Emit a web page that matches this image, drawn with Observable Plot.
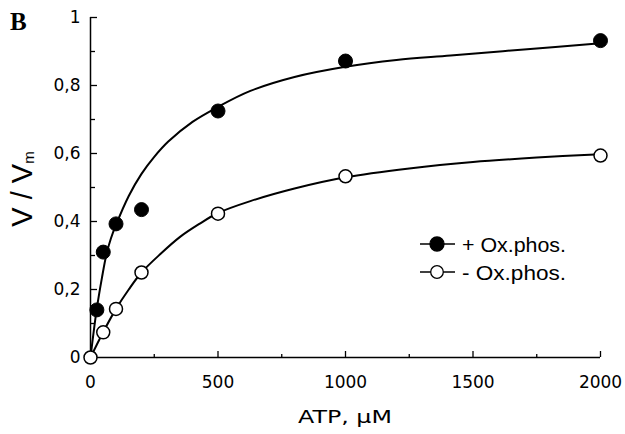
<!DOCTYPE html>
<html>
<head>
<meta charset="utf-8">
<script src="https://cdn.jsdelivr.net/npm/d3@7"></script>
<script src="https://cdn.jsdelivr.net/npm/@observablehq/plot@0.6"></script>
<style>
  html, body { margin: 0; padding: 0; background: #fff; }
  #chart { width: 625px; height: 434px; }
</style>
</head>
<body>
<div id="chart"></div>
<script>
// Measured points (ATP, µM vs V/Vm)
const plusX  = [25, 50, 100, 200, 500, 1000, 2000];
const plusY  = [0.14, 0.31, 0.393, 0.435, 0.725, 0.872, 0.932];
const minusX = [0, 50, 100, 200, 500, 1000, 2000];
const minusY = [0, 0.074, 0.143, 0.25, 0.423, 0.533, 0.594];

// Fitted curves
const plusCurveX  = [0, 24, 45, 63, 80, 100, 150, 200, 250, 305, 400, 500, 627, 800, 1000, 1200, 1412, 1700, 2000];
const plusCurveY  = [0, 0.14, 0.235, 0.305, 0.35, 0.39, 0.475, 0.54, 0.59, 0.635, 0.693, 0.737, 0.784, 0.825, 0.855, 0.875, 0.888, 0.906, 0.924];
const minusCurveX = [0, 50, 100, 150, 200, 275, 350, 425, 500, 627, 800, 1000, 1250, 1500, 1750, 2000];
const minusCurveY = [0, 0.075, 0.143, 0.2, 0.25, 0.305, 0.354, 0.392, 0.425, 0.46, 0.497, 0.53, 0.556, 0.575, 0.588, 0.598];

// Axis ticks and labels
const xTicks = [0, 500, 1000, 1500, 2000];
const xMinorTicks = [250, 750, 1250, 1750];
const yTicks = [0, 0.2, 0.4, 0.6, 0.8, 1];
const yTickLabels = ["0", "0,2", "0,4", "0,6", "0,8", "1"];
const yMinorTicks = [0.1, 0.3, 0.5, 0.7, 0.9];
const seriesLabels = ["+ Ox.phos.", "- Ox.phos."];
const xTitle = "ATP, \u00b5M";
const panelLetter = "B";

const plusPts = plusX.map((x, i) => ({x, y: plusY[i]}));
const minusPts = minusX.map((x, i) => ({x, y: minusY[i]}));
const plusCurve = plusCurveX.map((x, i) => ({x, y: plusCurveY[i]}));
const minusCurve = minusCurveX.map((x, i) => ({x, y: minusCurveY[i]}));

const W = 625, H = 434, mL = 90, mR = 25, mT = 17, mB = 77;
const innerW = W - mL - mR, innerH = H - mT - mB;

const chart = Plot.plot({
  width: W, height: H,
  marginLeft: mL, marginRight: mR, marginTop: mT, marginBottom: mB,
  style: {fontFamily: "DejaVu Sans", fontSize: "17px", background: "white", color: "black"},
  x: {domain: [0, 2000], label: null},
  y: {domain: [0, 1], label: null},
  marks: [
    Plot.axisX({ticks: xTicks, tickSize: 0, tickPadding: 18, tickFormat: d => String(d), label: null, fontSize: 17}),
    Plot.axisY({ticks: yTicks, tickSize: 0, tickPadding: 10, tickFormat: d => yTickLabels[yTicks.indexOf(d)], label: null, fontSize: 17}),
    Plot.tickY(yTicks, {y: d => d, insetRight: innerW - 7, stroke: "black", strokeWidth: 1.3}),
    Plot.tickY(yMinorTicks, {y: d => d, insetRight: innerW - 5, stroke: "black", strokeWidth: 1.3}),
    Plot.tickX(xTicks, {x: d => d, insetTop: innerH - 6, stroke: "black", strokeWidth: 1.3}),
    Plot.tickX(xMinorTicks, {x: d => d, insetTop: innerH - 3, stroke: "black", strokeWidth: 1.3}),
    Plot.ruleX([0], {stroke: "black", strokeWidth: 1.5}),
    Plot.ruleY([0], {stroke: "black", strokeWidth: 1.5}),
    Plot.line(plusCurve, {x: "x", y: "y", curve: "catmull-rom", stroke: "black", strokeWidth: 2}),
    Plot.line(minusCurve, {x: "x", y: "y", curve: "catmull-rom", stroke: "black", strokeWidth: 2}),
    Plot.dot(plusPts, {x: "x", y: "y", r: 7, fill: "black", stroke: "black", strokeWidth: 1}),
    Plot.dot(minusPts, {x: "x", y: "y", r: 6.5, fill: "white", stroke: "black", strokeWidth: 1.5})
  ]
});
document.getElementById("chart").appendChild(chart);

const svg = d3.select(chart);

// Panel letter
svg.append("text").attr("x", 10).attr("y", 30).attr("text-anchor", "start")
  .attr("font-family", "Liberation Serif").attr("font-weight", "bold").attr("font-size", 25)
  .attr("fill", "black").text(panelLetter);

// X title
svg.append("text").attr("x", mL + innerW / 2).attr("y", 423)
  .attr("text-anchor", "middle").attr("font-family", "DejaVu Sans").attr("font-size", 17)
  .attr("textLength", 94).attr("lengthAdjust", "spacingAndGlyphs")
  .attr("fill", "black").text(xTitle);

// Y title V / Vm
const yt = svg.append("text").attr("transform", "translate(32,189) rotate(-90)")
  .attr("text-anchor", "middle").attr("font-family", "Liberation Sans").attr("font-size", 29)
  .attr("fill", "black");
yt.append("tspan").text("V / V");
yt.append("tspan").attr("font-size", 15).attr("dy", 2).text("m");

// Legend
const legendRows = [
  {label: seriesLabels[0], fill: "black", r: 7, y: 244},
  {label: seriesLabels[1], fill: "white", r: 6.3, y: 272}
];
const lg = svg.append("g");
legendRows.forEach(row => {
  lg.append("line").attr("x1", 420).attr("x2", 455).attr("y1", row.y).attr("y2", row.y)
    .attr("stroke", "black").attr("stroke-width", 1.5);
  lg.append("circle").attr("cx", 437).attr("cy", row.y).attr("r", row.r)
    .attr("fill", row.fill).attr("stroke", "black").attr("stroke-width", 1.3);
  lg.append("text").attr("x", 462).attr("y", row.y + 8).attr("text-anchor", "start")
    .attr("font-family", "Liberation Sans").attr("font-size", 21)
    .attr("textLength", 104).attr("lengthAdjust", "spacingAndGlyphs")
    .attr("fill", "black").text(row.label);
});
</script>
</body>
</html>
